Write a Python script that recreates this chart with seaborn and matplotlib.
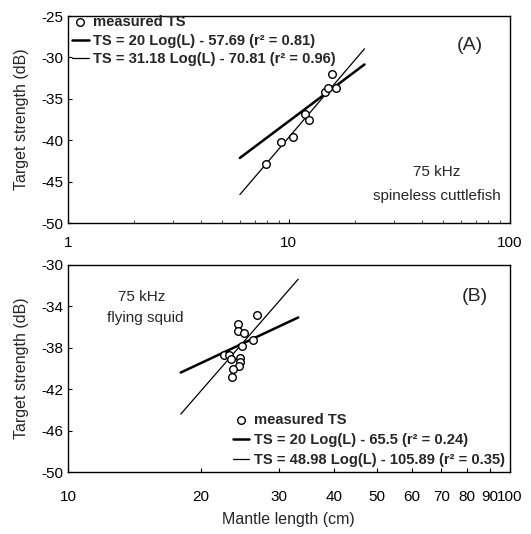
import numpy as np
import pandas as pd
import seaborn as sns
import matplotlib.pyplot as plt
from matplotlib.ticker import FixedLocator, NullFormatter

sns.set_style("ticks")
plt.rcParams["font.family"] = ["Liberation Sans", "DejaVu Sans"]
plt.rcParams["xtick.direction"] = "in"
plt.rcParams["ytick.direction"] = "in"
plt.rcParams["axes.unicode_minus"] = False

# (A) spineless cuttlefish, 75 kHz
cuttle_L = [7.9, 9.2, 10.4, 11.8, 12.3, 14.5, 15.1, 16.3, 15.6]
cuttle_TS = [-42.8, -40.2, -39.6, -36.8, -37.5, -34.2, -33.7, -33.7, -32.0]
cuttle_fits = [(20.0, -57.69, "TS = 20 Log(L) - 57.69 (r² = 0.81)"),
               (31.18, -70.81, "TS = 31.18 Log(L) - 70.81 (r² = 0.96)")]
cuttle_range = [6.0, 22.0]

# (B) flying squid, 75 kHz
squid_L = [26.8, 24.2, 24.3, 25.0, 26.2, 24.8, 22.5, 23.1, 23.4, 24.5, 24.5, 24.4, 23.6, 23.5]
squid_TS = [-34.8, -35.7, -36.4, -36.6, -37.3, -37.8, -38.7, -38.7, -39.1, -39.0,
            -39.4, -39.8, -40.1, -40.8]
squid_fits = [(20.0, -65.5, "TS = 20 Log(L) - 65.5 (r² = 0.24)"),
              (48.98, -105.89, "TS = 48.98 Log(L) - 105.89 (r² = 0.35)")]
squid_range = [18.0, 33.2]

fit_widths = [1.8, 0.9]
leg_font = {"weight": "bold", "size": 10.6}

fig = plt.figure(figsize=(5.31, 5.34), dpi=100)
axA = fig.add_axes([0.128, 0.582, 0.832, 0.388])
axB = fig.add_axes([0.128, 0.116, 0.832, 0.388])


def draw(ax, L, TS, fits, rng):
    sns.scatterplot(x=L, y=TS, ax=ax, marker="o", s=30, facecolor="white",
                    edgecolor="black", linewidth=1.0, label="measured TS", zorder=3)
    xs = np.array(rng)
    for (a, b, lab), lw in zip(fits, fit_widths):
        df = pd.DataFrame({"L": xs, "TS": a * np.log10(xs) + b})
        sns.lineplot(data=df, x="L", y="TS", ax=ax, color="black", lw=lw, label=lab)
    ax.set_xscale("log")
    for s in ax.spines.values():
        s.set_linewidth(1.0)
        s.set_color("black")
    ax.tick_params(labelsize=11, length=3, width=0.8, colors="black")
    ax.set_xlabel(None)
    ax.set_ylabel("Target strength (dB)", fontsize=11.5, labelpad=9)


draw(axA, cuttle_L, cuttle_TS, cuttle_fits, cuttle_range)
axA.set_xlim(1, 100)
axA.set_ylim(-50, -25)
axA.set_yticks([-50, -45, -40, -35, -30, -25])
axA.xaxis.set_major_locator(FixedLocator([1, 10, 100]))
axA.set_xticklabels(["1", "10", "100"])
axA.tick_params(axis="x", pad=9)
axA.legend(loc="upper left", bbox_to_anchor=(0.0, 1.025), frameon=False,
           handlelength=1.1, handletextpad=0.3, labelspacing=0.3,
           borderaxespad=0.0, borderpad=0.3, prop=leg_font)
axA.text(0.91, 0.86, "(A)", transform=axA.transAxes, ha="center", va="center",
         fontsize=14)
axA.text(0.835, 0.246, "75 kHz", transform=axA.transAxes,
         ha="center", va="center", fontsize=11)
axA.text(0.835, 0.13, "spineless cuttlefish", transform=axA.transAxes,
         ha="center", va="center", fontsize=11)

draw(axB, squid_L, squid_TS, squid_fits, squid_range)
axB.set_xlim(10, 100)
axB.set_ylim(-50, -30)
axB.set_yticks([-50, -46, -42, -38, -34, -30])
xt = [10, 20, 30, 40, 50, 60, 70, 80, 90, 100]
axB.xaxis.set_major_locator(FixedLocator(xt))
axB.xaxis.set_minor_formatter(NullFormatter())
axB.set_xticklabels(["10", "20", "30", "40", "50", "60", "70", "80", "90", "100"])
axB.tick_params(axis="x", pad=13)
axB.set_xlabel("Mantle length (cm)", fontsize=11.5, labelpad=6)
axB.legend(loc="lower right", frameon=False, handlelength=1.1,
           handletextpad=0.3, labelspacing=0.4, borderaxespad=0.05,
           borderpad=0.3, prop=leg_font)
axB.text(0.167, 0.845, "75 kHz", transform=axB.transAxes,
         ha="center", va="center", fontsize=11)
axB.text(0.175, 0.744, "flying squid", transform=axB.transAxes,
         ha="center", va="center", fontsize=11)
axB.text(0.92, 0.845, "(B)", transform=axB.transAxes, ha="center", va="center",
         fontsize=14)

fig.savefig("out.png", dpi=100)
